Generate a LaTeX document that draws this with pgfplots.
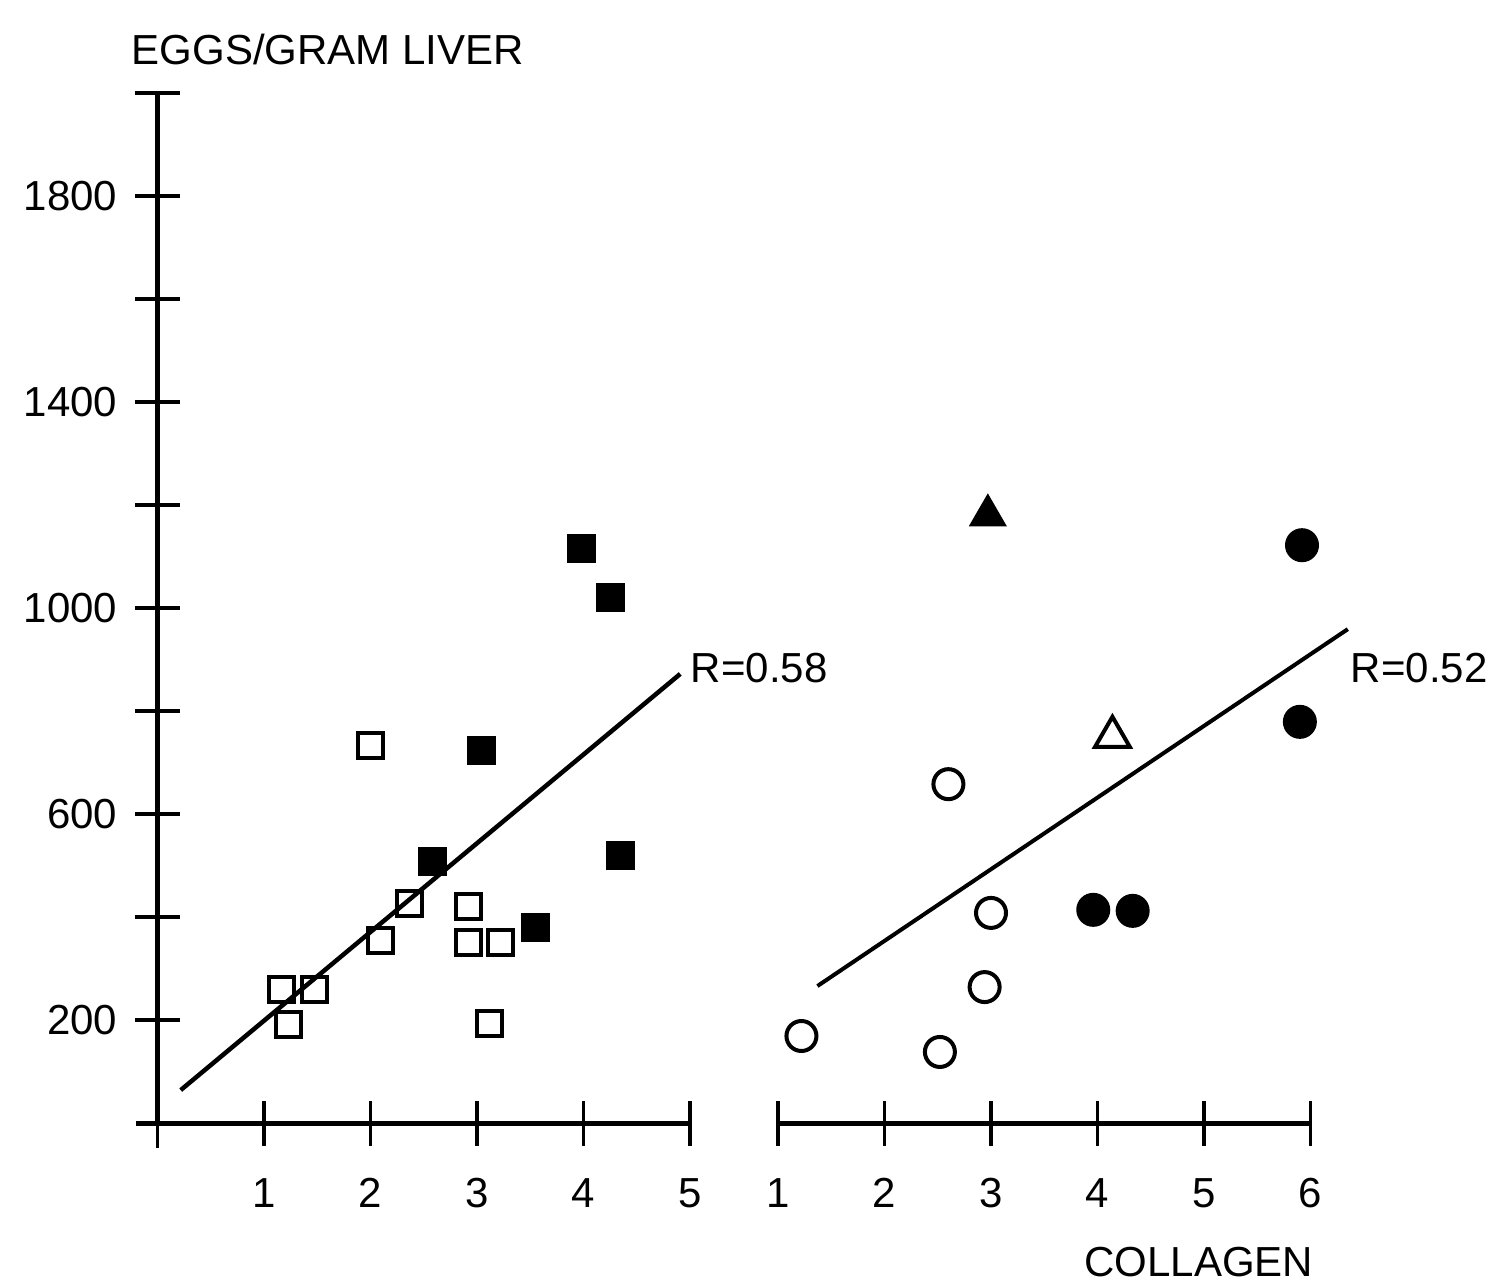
\documentclass[border=0pt]{standalone}
\usepackage{fontspec}
\setmainfont{Liberation Sans}
\usepackage{pgfplots}
\pgfplotsset{compat=1.18}

\pgfplotsset{
  panel/.style={
    x=21.3pt, y=0.103pt, ymin=0, ymax=2000,
    clip=false, scale only axis,
    tick style={line width=0.7pt, black},
    tick align=center, major tick length=9pt,
    /pgf/number format/assume math mode=true,
    ticklabel style={font=\fontsize{8.4}{10}\selectfont},
    xticklabel style={yshift=-3pt},
  },
  plainlines/.style={
    x axis line style={line width=1pt, -},
    y axis line style={line width=1pt, -},
  },
  opensq/.style={only marks, mark=square, mark size=2.5pt, mark options={line width=0.8pt, fill=white}},
  fullsq/.style={only marks, mark=square*, mark size=2.7pt, mark options={fill=black}},
  opencirc/.style={only marks, mark=o, mark size=3pt, mark options={line width=0.8pt, fill=white}},
  fullcirc/.style={only marks, mark=*, mark size=3.2pt, mark options={fill=black}},
  opentri/.style={only marks, mark=triangle, mark size=4pt, mark options={line width=0.8pt, fill=white}},
  fulltri/.style={only marks, mark=triangle*, mark size=4pt, mark options={fill=black}},
}

\begin{document}
\begin{tikzpicture}[font=\fontsize{8.4}{10}\selectfont]
\useasboundingbox (-27.2pt,224.6pt) rectangle (271.4pt,-31pt);

% left panel
\begin{axis}[panel, at={(0,0)}, anchor=south west,
  xmin=-0.2, xmax=5, axis lines=middle, plainlines,
  xtick={1,...,5}, xticklabels={1,2,3,4,5},
  ytick={200,400,...,2000}, yticklabels={200,,600,,1000,,1400,,1800,},
]
\addplot[opensq] coordinates {
  (2.00,734) (2.37,427) (2.10,355) (1.17,260) (1.48,260)
  (1.23,192) (2.92,421) (2.92,351) (3.22,351) (3.12,194)
};
\addplot[fullsq] coordinates {
  (3.98,1115) (4.26,1020) (3.04,724) (2.58,507) (4.35,520) (3.55,379)
};
\addplot[line width=0.9pt, no marks] coordinates {(0.22,64) (4.91,872)};
\node[anchor=west, inner sep=0pt] at (axis cs:5.0,884) {R=0.58};
\node[anchor=west, inner sep=0pt] at (axis cs:-0.25,2084) {EGGS/GRAM LIVER};
\draw[line width=0.7pt] (axis cs:0,0) -- ([yshift=-5pt]axis cs:0,0);
\end{axis}

% right panel
\begin{axis}[panel, at={(128.4pt,0)}, anchor=south west,
  xmin=1, xmax=6, axis x line=bottom, axis y line=none, plainlines,
  xtick={1,...,6}, xticklabels={1,2,3,4,5,6},
]
\addplot[opencirc] coordinates {
  (2.60,658) (3.00,408) (2.94,264) (1.22,169) (2.52,138)
};
\addplot[fullcirc] coordinates {
  (5.92,1122) (5.90,779) (3.96,414) (4.33,412)
};
\addplot[opentri] coordinates {(4.14,750)};
\addplot[fulltri] coordinates {(2.97,1180)};
\addplot[line width=0.8pt, no marks] coordinates {(1.37,266) (6.35,959)};
\node[anchor=west, inner sep=0pt] at (axis cs:6.37,884) {R=0.52};
\node[inner sep=0pt] at (axis cs:4.95,-270) {COLLAGEN};
\end{axis}
\end{tikzpicture}
\end{document}
